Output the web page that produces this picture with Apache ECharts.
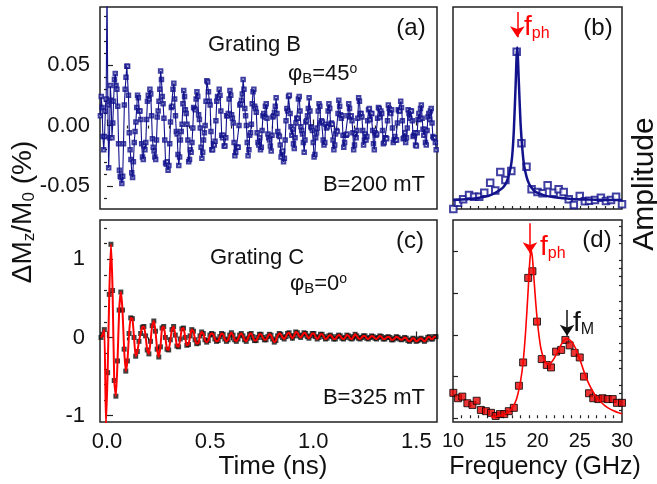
<!DOCTYPE html>
<html style="height: 100%">
<head>
    <meta charset="utf-8">
    <script src="https://cdn.jsdelivr.net/npm/echarts@6/dist/echarts.min.js"></script>
</head>
<body style="height:100%;margin:0">
    <div id="main" style="width:657px;height:484px;"></div>
    <script type="text/javascript">

        var FONT = '"Liberation Sans", Arial, sans-serif';
        var NAVY = '#12128c';
        var RED = '#ff0000';
        var INK = '#222';

        // (a) grating B, 200 mT : sampled every 4 ps from t0
        var aStart = -0.032, aStep = 0.004;
        var aValues = [
            0.008, 0.024, 0.015, -0.009, -0.02, -0.009, 0.012, 0.022, 0.12, 0.017, -0.035, -0.01, 0.033, 0.021, -0.01, 0.002, 0.02, 0.038, 0.043, 0.033,
            0.03, 0.016, -0.015, -0.037, -0.042, -0.043, -0.048, -0.042, -0.015, 0.017, 0.03, 0.04, 0.049, 0.049, 0.025, -0.006, -0.02, -0.028, -0.039, -0.043,
            -0.03, -0.014, -0.005, 0.003, 0.015, 0.025, 0.023, 0.012, 0.012, 0.005, -0.015, -0.026, -0.028, -0.017, -0.02, -0.014, 0.005, 0.02, 0.025, 0.022,
            0.03, 0.026, 0.008, -0.011, -0.018, -0.021, -0.026, -0.028, -0.012, 0.007, 0.012, 0.02, 0.03, 0.045, 0.038, 0.024, 0.018, 0.006, -0.012, -0.031,
            -0.032, -0.03, -0.037, -0.033, -0.015, 0.003, 0.015, 0.016, 0.03, 0.035, 0.022, 0.008, -0.005, -0.007, -0.024, -0.033, -0.026, -0.012, -0.005, 0.001,
            0.018, 0.029, 0.024, 0.013, 0.01, 0.001, -0.012, -0.03, -0.028, -0.02, -0.022, -0.014, -0.002, 0.015, 0.014, 0.013, 0.022, 0.028, 0.024, 0.009,
            0.005, -0.002, -0.018, -0.027, -0.022, -0.012, -0.006, 0.0, 0.02, 0.037, 0.036, 0.028, 0.02, 0.017, -0.005, -0.02, -0.02, -0.015, -0.016, -0.013,
            0.004, 0.02, 0.024, 0.023, 0.03, 0.025, 0.012, -0.008, -0.01, -0.008, -0.017, -0.017, -0.01, 0.008, 0.008, 0.01, 0.022, 0.029, 0.025, 0.009,
            0.006, 0.002, -0.014, -0.025, -0.022, -0.018, -0.018, -0.018, 0.0, 0.017, 0.018, 0.021, 0.026, 0.038, 0.03, 0.014, 0.008, 0.0, -0.014, -0.025,
            -0.02, -0.008, -0.006, 0.001, 0.018, 0.028, 0.03, 0.016, 0.014, 0.011, -0.006, -0.014, -0.016, -0.01, -0.02, -0.018, -0.004, 0.008, 0.01, 0.007,
            0.016, 0.018, 0.006, -0.007, -0.01, -0.012, -0.017, -0.021, -0.008, 0.007, 0.008, 0.011, 0.016, 0.023, 0.01, -0.005, -0.008, -0.009, -0.016, -0.026,
            -0.022, -0.021, -0.03, -0.027, -0.012, 0.004, 0.014, 0.012, 0.024, 0.025, 0.01, -0.001, -0.008, -0.003, -0.015, -0.019, -0.01, 0.002, 0.006, 0.006,
            0.022, 0.024, 0.012, -0.001, -0.004, -0.007, -0.014, -0.022, -0.012, 0.003, 0.004, 0.008, 0.014, 0.023, 0.012, -0.001, -0.002, -0.004, -0.014, -0.026,
            -0.024, -0.01, -0.006, -0.002, 0.012, 0.018, 0.016, 0.002, 0.004, 0.003, -0.012, -0.016, -0.014, 0.001, -0.002, -0.001, 0.012, 0.018, 0.014, 0.001,
            0.002, 0.001, -0.012, -0.02, -0.016, -0.007, -0.004, -0.005, 0.01, 0.021, 0.016, 0.009, 0.006, 0.008, -0.008, -0.018, -0.014, -0.008, -0.008, -0.007,
            0.008, 0.018, 0.014, 0.007, 0.008, 0.004, -0.006, -0.02, -0.016, -0.007, -0.01, -0.004, 0.006, 0.023, 0.02, 0.01, 0.01, 0.007, -0.004, -0.016,
            -0.012, -0.007, -0.012, -0.009, 0.004, 0.013, 0.014, 0.005, 0.01, 0.01, -0.004, -0.015, -0.02, -0.006, -0.008, -0.007, 0.006, 0.015, 0.014, 0.007,
            0.012, 0.01, -0.004, -0.015, -0.014, -0.01, -0.01, -0.011, 0.004, 0.017, 0.014, 0.011, 0.01, 0.013, -0.002, -0.014, -0.012, -0.009, -0.012, -0.012,
            0.002, 0.013, 0.012, 0.012, 0.02, 0.015, 0.004, -0.011, -0.01, -0.006, -0.014, -0.01, -0.002, 0.013, 0.01, 0.006, 0.012, 0.012, 0.004, -0.009,
            -0.008, -0.006, -0.016, -0.017, -0.006, 0.005, 0.01, 0.005, 0.014, 0.017, 0.006, -0.003, -0.008, -0.003, -0.014, -0.016, -0.004, 0.007, 0.01, 0.005,
            0.012, 0.014, 0.002, -0.009, -0.01, -0.01, -0.014, -0.02
        ];

        // (c) grating C, 325 mT : sampled every 8 ps
        var cStart = -0.029, cStep = 0.008;
        var cValues = [
            0.0, 0.04, 0.1, -1.1, -0.45, 0.55, 1.19, 0.6, -0.55, -0.75,
            -0.3, 0.35, 0.58, 0.35, -0.15, -0.43, -0.3, 0.05, 0.25, 0.24,
            0.0, -0.24, -0.18, -0.05, 0.05, 0.13, 0.14, 0.02, -0.16, -0.21,
            -0.05, 0.15, 0.21, 0.08, -0.15, -0.25, -0.12, 0.12, 0.14, 0.0,
            -0.15, -0.16, -0.03, 0.1, 0.14, 0.03, -0.11, -0.12, -0.02, 0.11,
            0.12, 0.0, -0.1, -0.09, 0.02, 0.1, 0.08, -0.03, -0.08, -0.07,
            0.02, 0.07, 0.05, -0.03, -0.06, -0.04, 0.03,
            0.05, 0.04, -0.02, -0.05, -0.04, 0.01, 0.05, 0.04, -0.02, -0.05,
            -0.03, 0.03, 0.06, 0.03, -0.03, -0.05, -0.02, 0.03, 0.05, 0.02,
            -0.03, -0.05, -0.01, 0.04, 0.05, 0.01, -0.04, -0.04, 0.0, 0.04,
            0.04, 0.0, -0.03, -0.03, 0.01, 0.04, 0.03, -0.02, -0.06, -0.04,
            0.02, 0.05, 0.04, 0.0, -0.02, 0.01, 0.05, 0.06, 0.02, -0.01,
            0.02, 0.07, 0.06, 0.02, 0.0, 0.03, 0.06, 0.05, 0.01, -0.01,
            0.02, 0.05, 0.05, 0.01, -0.02, 0.0, 0.04, 0.04, 0.01, -0.02,
            -0.01, 0.02, 0.03, 0.01, -0.02, -0.02, 0.01, 0.03, 0.02, -0.01,
            -0.02, 0.0, 0.03, 0.02, -0.01, -0.02, 0.01, 0.04, 0.02, -0.01,
            -0.02, 0.0, 0.02, 0.02, -0.01, -0.02, 0.0, 0.02, 0.01, -0.01,
            -0.02, 0.0, 0.02, 0.01, -0.02, -0.02, 0.0, 0.01, 0.0, -0.03,
            -0.03, -0.01, 0.01, 0.0, -0.02, -0.03, -0.02, 0.0, -0.01, -0.04,
            -0.05, -0.03, -0.01, -0.02, -0.05, -0.04, -0.02, -0.01, -0.03, -0.05,
            -0.03, 0.0, 0.01, -0.02, -0.02, 0.01, 0.01
        ];

        // (b) spectrum of grating B
        var bFreq = [10.04, 10.6, 11.2, 11.9, 12.5, 13.1, 13.7, 14.4, 15.0, 15.6, 16.2, 16.9, 17.54,
            18.1, 18.7, 19.3, 20.0, 20.6, 21.2, 21.9, 22.5, 23.1, 23.7, 24.3, 25.0, 25.6, 26.1,
            26.8, 27.5, 28.1, 28.7, 29.3, 30.0];
        var bAmp = [0.0, 0.031, 0.048, 0.069, 0.061, 0.061, 0.081, 0.13, 0.091, 0.183, 0.144, 0.188, 0.779,
            0.325, 0.209, 0.098, 0.084, 0.078, 0.117, 0.081, 0.098, 0.084, 0.048, 0.02, 0.064, 0.038, 0.041,
            0.045, 0.056, 0.04, 0.045, 0.061, 0.023];
        var bFitFreq = [10, 11, 12, 13, 14, 14.5, 15, 15.5, 16, 16.4, 16.8, 17.0, 17.2, 17.4, 17.6,
            17.8, 18.0, 18.2, 18.4, 18.7, 19, 19.5, 20, 21, 22, 23, 24, 26, 28, 30];
        var bFitAmp = [0.045, 0.047, 0.05, 0.055, 0.063, 0.07, 0.08, 0.093, 0.11, 0.14, 0.2, 0.26, 0.39, 0.6, 0.8,
            0.62, 0.42, 0.3, 0.22, 0.16, 0.125, 0.095, 0.08, 0.065, 0.058, 0.053, 0.05, 0.047, 0.045, 0.044];

        // (d) spectrum of grating C
        var dFreq = [10.04, 10.6, 11.1, 11.7, 12.3, 12.8, 13.3, 13.9, 14.5, 15.05, 15.56, 16.07, 16.6,
            17.2, 17.8, 18.3, 18.9, 19.4, 19.94, 20.5, 21.1, 21.6, 22.2, 22.8, 23.3, 23.8, 24.4,
            25.0, 25.5, 26.1, 26.6, 27.2, 27.7, 28.3, 28.9, 29.4, 30.0];
        var dAmp = [0.61, 0.48, 0.52, 0.36, 0.32, 0.42, 0.20, 0.17, 0.13, 0.055, 0.10, 0.10, 0.17,
            0.25, 0.78, 1.34, 3.37, 3.53, 2.32, 1.42, 1.28, 1.22, 1.60, 1.64, 1.88, 1.75, 1.57,
            1.46, 1.00, 0.60, 0.48, 0.46, 0.48, 0.46, 0.46, 0.37, 0.37];
        var dFitFreq = [14.5, 15, 15.5, 16, 16.5, 17, 17.5, 18, 18.3, 18.6, 18.9, 19.1, 19.25, 19.4, 19.6,
            19.8, 20.0, 20.2, 20.4, 20.7, 21.0, 21.3, 21.6, 22.0, 22.5, 23.0, 23.5, 24.0, 24.5, 25.0,
            25.5, 26.0, 26.5, 27.0, 27.5, 28.0, 28.5, 29.0, 29.5, 30.0];
        var dFitAmp = [0.03, 0.04, 0.06, 0.09, 0.14, 0.25, 0.45, 0.9, 1.35, 2.1, 3.1, 3.8, 4.04, 3.85, 3.3,
            2.75, 2.3, 1.95, 1.68, 1.45, 1.33, 1.29, 1.33, 1.45, 1.65, 1.83, 1.91, 1.85, 1.68, 1.42,
            1.12, 0.86, 0.66, 0.5, 0.39, 0.3, 0.23, 0.18, 0.14, 0.11];

        var timeTicks = [0, 0.5, 1, 1.5];
        var freqTicks = [10, 15, 20, 25, 30];
        var aTicks = [-0.05, 0, 0.05];
        var cTicks = [-1, 0, 1];
        var dTicks = [0, 1, 2, 3, 4];

        function sampled(start, step, vals) {
            return vals.map(function (v, i) { return [+(start + i * step).toFixed(4), v]; });
        }
        function pairs(xs, ys) {
            return xs.map(function (x, i) { return [x, ys[i]]; });
        }
        // tick positions between the majors
        function minor(from, to, step, major) {
            var out = [];
            var n = Math.round((to - from) / step);
            for (var i = 0; i <= n; i++) {
                var v = +(from + i * step).toFixed(4);
                if (Math.abs(v / major - Math.round(v / major)) > 1e-6) out.push(v);
            }
            return out;
        }

        function axis(grid, min, max, ticks, len, label) {
            return {
                type: 'value', gridIndex: grid, min: min, max: max,
                axisLine: { show: false },
                splitLine: { show: false },
                axisTick: {
                    show: ticks.length > 0, inside: true, length: len, customValues: ticks,
                    lineStyle: { color: INK, width: 1.2 }
                },
                axisLabel: label ? Object.assign({
                    color: '#111', fontFamily: FONT, fontSize: 22,
                    showMinLabel: true, showMaxLabel: true
                }, label) : { show: false }
            };
        }

        var tMin = -0.034, tMax = 1.6;

        var myChart = echarts.init(document.getElementById('main'));

        var gridBase = { show: true, borderColor: INK, borderWidth: 1.5, backgroundColor: 'transparent',
            containLabel: false, outerBoundsMode: 'none' };

        function txt(x, y, s, size, align) {
            return {
                type: 'text', x: x, y: y,
                style: { text: s, fontFamily: FONT, fontSize: size, fill: '#111',
                    align: align, verticalAlign: 'middle' }
            };
        }
        function phi(x, y, deg) {
            return {
                type: 'text', x: x, y: y,
                style: {
                    text: '{m|φ}{s|B}{m|=' + deg + '}{p|o}',
                    align: 'left', verticalAlign: 'top', fill: '#111',
                    rich: {
                        m: { fontFamily: FONT, fontSize: 22, lineHeight: 24, fill: '#111' },
                        s: { fontFamily: FONT, fontSize: 15, lineHeight: 7, verticalAlign: 'bottom', fill: '#111' },
                        p: { fontFamily: FONT, fontSize: 14, lineHeight: 12, verticalAlign: 'top', fill: '#111' }
                    }
                }
            };
        }
        function sub(x, y, main, small, color, lh) {
            return {
                type: 'text', x: x, y: y,
                style: {
                    text: '{m|' + main + '}{s|' + small + '}',
                    align: 'left', verticalAlign: 'top', fill: color,
                    rich: {
                        m: { fontFamily: FONT, fontSize: 28, lineHeight: 30, fill: color },
                        s: { fontFamily: FONT, fontSize: 16, lineHeight: lh, verticalAlign: 'bottom', fill: color }
                    }
                }
            };
        }

        var aData = sampled(aStart, aStep, aValues);
        var cData = sampled(cStart, cStep, cValues);

        option = {
            animation: false,
            backgroundColor: '#fff',
            grid: [
                Object.assign({ left: 100, top: 7, width: 337, height: 202 }, gridBase),
                Object.assign({ left: 453, top: 7, width: 169, height: 202 }, gridBase),
                Object.assign({ left: 100, top: 220, width: 337, height: 202 }, gridBase),
                Object.assign({ left: 453, top: 220, width: 169, height: 202 }, gridBase)
            ],
            xAxis: [
                axis(0, tMin, tMax, timeTicks, 6, null),
                axis(0, tMin, tMax, minor(0, 1.5, 0.1, 0.5), 3, null),
                axis(1, 10, 30, minor(11, 29, 1, 100), 3, null),
                axis(2, tMin, tMax, timeTicks, 6, {
                    customValues: timeTicks, margin: 9,
                    formatter: function (v) { return v.toFixed(1); }
                }),
                axis(2, tMin, tMax, minor(0, 1.5, 0.1, 0.5), 3, null),
                axis(3, 10, 30, minor(11, 29, 1, 100), 3, {
                    customValues: freqTicks, margin: 9, fontSize: 20
                })
            ],
            yAxis: [
                axis(0, -0.069, 0.098, aTicks, 6, {
                    customValues: aTicks, margin: 10,
                    formatter: function (v) { return v.toFixed(2); }
                }),
                axis(0, -0.069, 0.098, minor(-0.06, 0.09, 0.01, 0.05), 3, null),
                axis(1, 0, 1, [], 3, null),
                axis(2, -1.08, 1.5, cTicks, 6, {
                    customValues: cTicks, margin: 15,
                    formatter: function (v) { return String(v); }
                }),
                axis(2, -1.08, 1.5, minor(-1, 1.4, 0.2, 1), 3, null),
                axis(3, -0.09, 4.76, dTicks, 5, null),
                axis(3, -0.09, 4.76, minor(0, 4.6, 0.2, 1), 3, null)
            ],
            series: [
                {
                    name: 'grating B points', type: 'scatter', xAxisIndex: 0, yAxisIndex: 0,
                    data: aData, symbol: 'emptyRect', symbolSize: 3.5,
                    itemStyle: { color: NAVY, borderWidth: 1 }
                },
                {
                    name: 'grating B', type: 'line', xAxisIndex: 0, yAxisIndex: 0,
                    data: aData, showSymbol: false,
                    lineStyle: { color: NAVY, width: 1.1 }
                },
                {
                    name: 'fit b', type: 'line', xAxisIndex: 2, yAxisIndex: 2,
                    data: pairs(bFitFreq, bFitAmp), smooth: 0.3, showSymbol: false,
                    lineStyle: { color: NAVY, width: 2.5 },
                    markLine: {
                        silent: true, symbol: ['none', 'arrow'], symbolSize: 11,
                        lineStyle: { color: RED, width: 1.5, type: 'solid' },
                        label: { show: false },
                        data: [[{ coord: [17.61, 0.975] }, { coord: [17.61, 0.85] }]]
                    }
                },
                {
                    name: 'spectrum b', type: 'scatter', xAxisIndex: 2, yAxisIndex: 2,
                    data: pairs(bFreq, bAmp), symbol: 'emptyRect', symbolSize: 6.5, clip: false,
                    itemStyle: { color: NAVY, borderWidth: 1.8 }
                },
                {
                    name: 'grating C', type: 'scatter', xAxisIndex: 3, yAxisIndex: 3,
                    data: cData, symbol: 'rect', symbolSize: 5,
                    itemStyle: { color: '#111' }
                },
                {
                    name: 'fit c', type: 'line', xAxisIndex: 3, yAxisIndex: 3,
                    data: cData, smooth: 0.2, showSymbol: false,
                    lineStyle: { color: RED, width: 2 }
                },
                {
                    name: 'fit d', type: 'line', xAxisIndex: 5, yAxisIndex: 5,
                    data: pairs(dFitFreq, dFitAmp), smooth: 0.3, showSymbol: false,
                    lineStyle: { color: RED, width: 1.6 },
                    markLine: {
                        silent: true, symbol: ['none', 'arrow'], symbolSize: 11,
                        label: { show: false },
                        data: [
                            [{ coord: [19.11, 4.68], lineStyle: { color: RED, width: 1.5, type: 'solid' } }, { coord: [19.11, 3.96] }],
                            [{ coord: [23.5, 2.6], lineStyle: { color: '#111', width: 1.5, type: 'solid' } }, { coord: [23.5, 1.98] }]
                        ]
                    }
                },
                {
                    name: 'spectrum d', type: 'scatter', xAxisIndex: 5, yAxisIndex: 5,
                    data: pairs(dFreq, dAmp), symbol: 'rect', symbolSize: 7, clip: false,
                    itemStyle: { color: '#e80000', borderColor: '#000', borderWidth: 1 }
                }
            ],
            graphic: [
                txt(411, 28, '(a)', 24, 'center'),
                txt(208, 45, 'Grating B', 22, 'left'),
                txt(425, 185, 'B=200 mT', 22, 'right'),
                phi(288, 62, '45'),
                txt(410, 241, '(c)', 24, 'center'),
                txt(210, 258, 'Grating C', 22, 'left'),
                txt(425, 398, 'B=325 mT', 22, 'right'),
                phi(290, 272, '0'),
                txt(598, 28, '(b)', 24, 'center'),
                txt(597, 240, '(d)', 24, 'center'),
                sub(524, 12, 'f', 'ph', RED, 6),
                sub(540, 232, 'f', 'ph', RED, 6),
                sub(573, 308, 'f', 'M', '#111', 10),
                txt(273, 467, 'Time (ns)', 26, 'center'),
                txt(545, 467, 'Frequency (GHz)', 25, 'center'),
                {
                    type: 'text', x: 645, y: 184, rotation: Math.PI / 2,
                    style: { text: 'Amplitude', fontFamily: FONT, fontSize: 30, fill: '#111',
                        align: 'center', verticalAlign: 'middle' }
                },
                {
                    type: 'text', x: 23, y: 212, rotation: Math.PI / 2,
                    style: {
                        text: '{m|ΔM}{s|z}{m|/M}{s|0}{m| (%)}',
                        align: 'center', verticalAlign: 'middle', fill: '#111',
                        rich: {
                            m: { fontFamily: FONT, fontSize: 28, lineHeight: 30, fill: '#111' },
                            s: { fontFamily: FONT, fontSize: 17, lineHeight: 18, verticalAlign: 'bottom', fill: '#111' }
                        }
                    }
                }
            ]
        };

        myChart.setOption(option);
    </script>
</body>
</html>
